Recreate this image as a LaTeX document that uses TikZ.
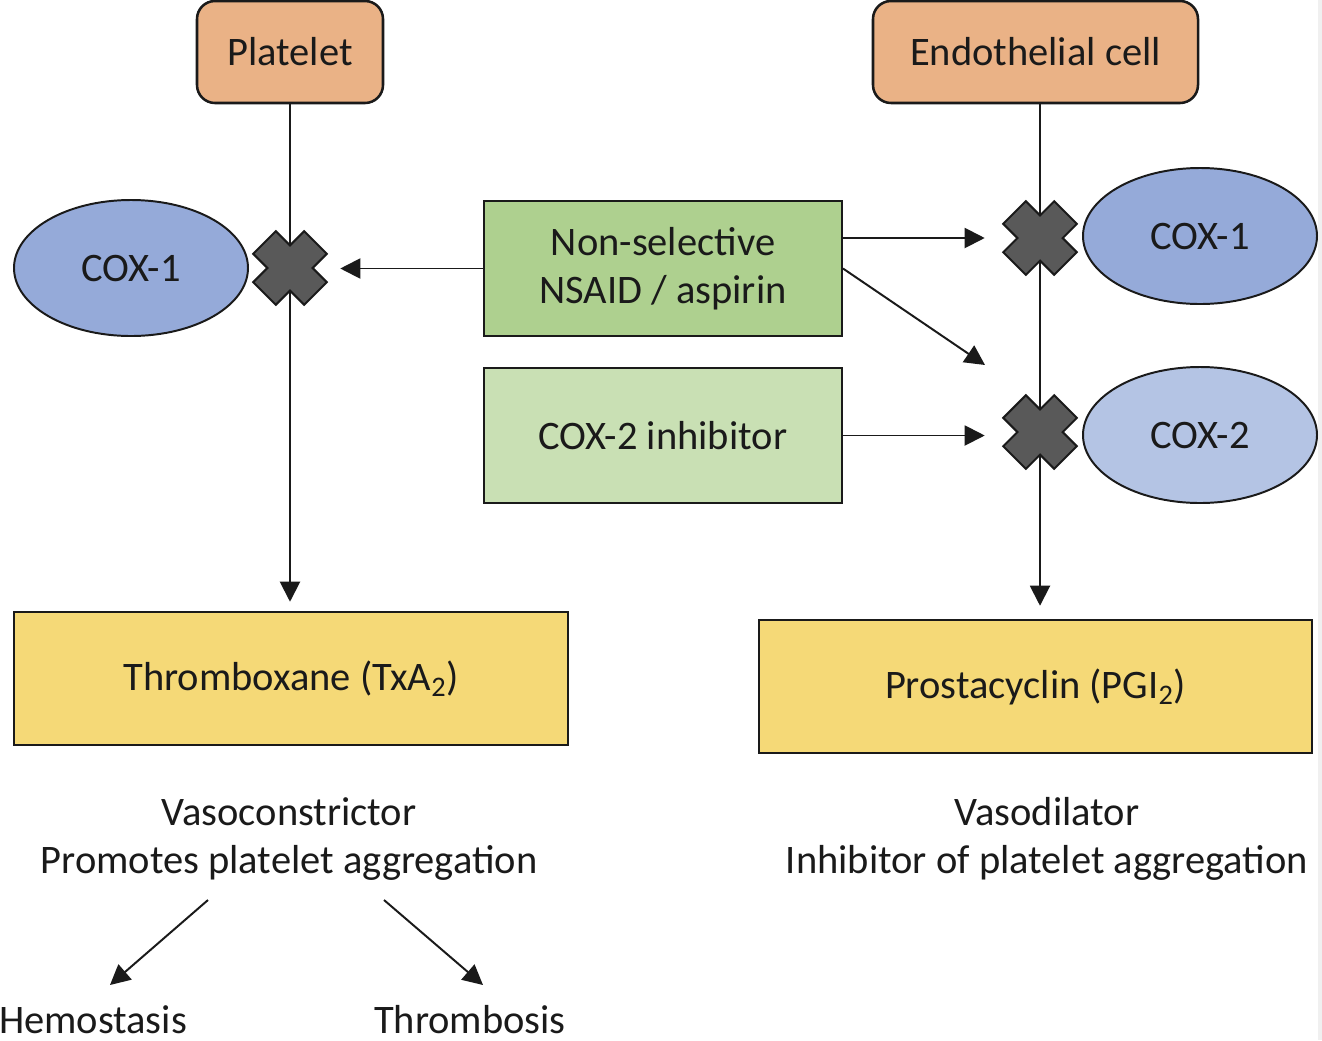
\documentclass[tikz,border=0pt]{standalone}
\usepackage{fontspec}
\setmainfont{Carlito}
\usetikzlibrary{arrows.meta,shapes.geometric}

\definecolor{cellpeach}{HTML}{EAB286}
\definecolor{coxone}{HTML}{95AAD9}
\definecolor{coxtwo}{HTML}{B4C4E4}
\definecolor{nsaidgreen}{HTML}{AED08F}
\definecolor{inhgreen}{HTML}{C9E0B4}
\definecolor{prodyellow}{HTML}{F5D977}
\definecolor{xgray}{HTML}{595959}
\definecolor{ink}{HTML}{1A1A1A}

\begin{document}
\begin{tikzpicture}[
		font=\fontsize{28.8}{34}\selectfont,
		every node/.style={text=ink},
		cell/.style={draw=ink, line width=1.8pt, fill=cellpeach, rounded corners=0.45cm, minimum height=2.55cm},
		drug/.style={draw=ink, line width=1.4pt, minimum width=8.95cm, minimum height=3.375cm, align=center},
		enzyme/.style={ellipse, draw=ink, line width=1.4pt, minimum width=5.85cm, minimum height=3.4cm},
		product/.style={draw=ink, line width=1.8pt, fill=prodyellow, minimum width=13.85cm, minimum height=3.325cm},
		xmark/.style={minimum size=1.85cm, inner sep=0pt},
		arr/.style={draw=ink, line width=1.4pt, -{Triangle[length=0.5cm,width=0.5cm]}},
		blockx/.pic={
			\filldraw [fill=xgray, draw=ink, line width=1.4pt, rotate=45] (0.4, 0.9) -- (-0.4, 0.9) -- (-0.4, 0.4) -- (-0.9, 0.4) -- (-0.9, -0.4) -- (-0.4, -0.4) -- (-0.4, -0.9) -- (0.4, -0.9) -- (0.4, -0.4) -- (0.9, -0.4) -- (0.9, 0.4) -- (0.4, 0.4) -- cycle;
		}
	]
		\useasboundingbox (0, 0) rectangle (33.05, -26);
		\fill [black!6] (32.95, 0) rectangle (33.05, -26);
		% cells
		\node [cell, minimum width=4.65cm] (platelet) at (7.25, -1.3) {Platelet};
		\node [cell, minimum width=8.125cm] (endo) at (25.8875, -1.3) {Endothelial cell};
		% enzymes
		\node [enzyme, fill=coxone] (coxl) at (3.275, -6.7) {COX-1};
		\node [enzyme, fill=coxone] (coxr) at (30.0, -5.9) {COX-1};
		\node [enzyme, fill=coxtwo] (coxtwo) at (30.0, -10.875) {COX-2};
		% drugs
		\node [drug, fill=nsaidgreen] (nsaid) at (16.575, -6.7125) {Non-selective\\NSAID / aspirin};
		\node [drug, fill=inhgreen] (coxinh) at (16.575, -10.8875) {COX-2 inhibitor};
		% products
		\node [product] (thrombox) at (7.275, -16.9625) {Thromboxane (TxA\textsubscript{2})};
		\node [product, minimum width=13.825cm] (prosta) at (25.8875, -17.1625) {Prostacyclin (PGI\textsubscript{2})};
		\node [align=center] (vasocon) at (7.225, -20.975) {Vasoconstrictor\\Promotes platelet aggregation};
		\node [align=center] (vasodil) at (26.175, -20.975) {Vasodilator\\Inhibitor of platelet aggregation};
		\node (hemo) at (2.325, -25.5) {Hemostasis};
		\node (thrombo) at (11.75, -25.5) {Thrombosis};
		% blocked sites
		\node [xmark] (xl) at (7.25, -6.7) {};
		\node [xmark] (x1) at (26.0, -5.95) {};
		\node [xmark] (x2) at (26.0, -10.8) {};
		\coordinate (cox2tip) at ([shift={(-1.375, 1.675)}]x2.center);
		% pathways
		\draw [arr, shorten >=0.225cm] (platelet.south) -- (platelet.south |- thrombox.north);
		\draw [arr, shorten >=0.325cm] (x1 |- endo.south) -- (x1 |- prosta.north);
		\draw [arr, shorten >=0.325cm] (nsaid.west) -- (nsaid.west -| xl.east);
		\draw [arr, shorten >=0.45cm] (nsaid.east |- x1) -- (x1.west);
		\draw [arr] (nsaid.east) -- (cox2tip);
		\draw [arr, shorten >=0.45cm] (coxinh.east) -- (coxinh.east -| x2.west);
		\draw [arr] ([shift={(-2.025, -1.525)}]vasocon.center) -- ([shift={(0.425, 0.875)}]hemo.center);
		\draw [arr] ([shift={(2.375, -1.525)}]vasocon.center) -- ([shift={(0.325, 0.875)}]thrombo.center);
		\pic at (xl) {blockx};
		\pic at (x1) {blockx};
		\pic at (x2) {blockx};
	\end{tikzpicture}
\end{document}
